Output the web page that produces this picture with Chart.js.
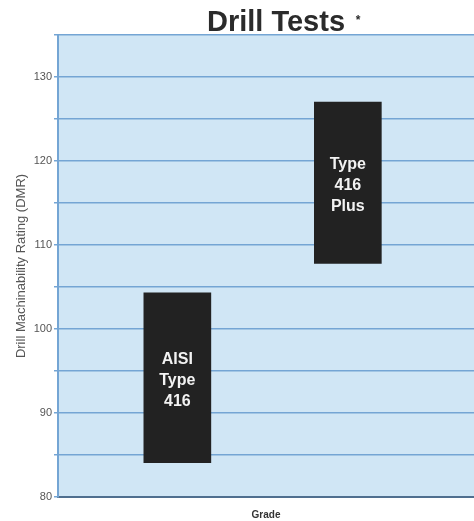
<!DOCTYPE html>
<html>
<head>
<meta charset="utf-8">
<script src="https://cdn.jsdelivr.net/npm/chart.js@4.4.0/dist/chart.umd.min.js"></script>
<style>
  html, body { margin: 0; padding: 0; background: #fff; }
  #wrap { width: 474px; height: 521px; }
</style>
</head>
<body>
<div id="wrap"><canvas id="drillChart"></canvas></div>
<script>
// Drill test data
const grades = ['AISI Type 416', 'Type 416 Plus'];
const gradeLines = [['AISI', 'Type', '416'], ['Type', '416', 'Plus']];
const gradePos = [1, 2];
const dmrLow = [84.1, 107.8];
const dmrHigh = [104.3, 127];
const yMin = 80, yMax = 135, yStep = 5, yLabelStep = 10;

const FONT = '"Liberation Sans", Arial, Helvetica, sans-serif';

// plot background fill
const areaFill = {
    id: 'areaFill',
    beforeDraw(chart) {
        const { ctx, chartArea: a } = chart;
        ctx.save();
        ctx.fillStyle = '#d0e6f5';
        ctx.fillRect(a.left, a.top, a.right - a.left, a.bottom - a.top);
        ctx.restore();
    }
};

// title and text inside bars
const textPlugin = {
    id: 'textPlugin',
    afterDraw(chart) {
        const { ctx } = chart;
        ctx.save();
        ctx.fillStyle = '#2b2b2b';
        ctx.font = 'bold 29px ' + FONT;
        ctx.textAlign = 'center';
        ctx.textBaseline = 'alphabetic';
        ctx.fillText('Drill Tests', 276, 31);
        ctx.font = 'bold 12px ' + FONT;
        ctx.fillText('*', 358, 24);

        const meta = chart.getDatasetMeta(0);
        ctx.fillStyle = '#f2f2f2';
        ctx.font = 'bold 16px ' + FONT;
        ctx.textBaseline = 'middle';
        meta.data.forEach((bar, i) => {
            const cy = (bar.y + bar.base) / 2;
            const lines = gradeLines[i];
            lines.forEach((t, j) => {
                ctx.fillText(t, bar.x, cy + 3 + (j - (lines.length - 1) / 2) * 21);
            });
        });
        ctx.restore();
    }
};

const ctx = document.getElementById('drillChart').getContext('2d');
const drillChart = new Chart(ctx, {
    type: 'bar',
    data: {
        datasets: [{
            label: 'Drill Machinability Rating',
            data: gradePos.map((x, i) => ({ x: x, y: [dmrLow[i], dmrHigh[i]], grade: grades[i] })),
            backgroundColor: '#222222',
            borderWidth: 0,
            barThickness: 67
        }]
    },
    options: {
        responsive: true,
        maintainAspectRatio: false,
        animation: false,
        layout: { padding: { top: 35, right: 0, left: 0, bottom: 0 } },
        plugins: {
            legend: { display: false },
            title: { display: false },
            tooltip: { enabled: false }
        },
        scales: {
            x: {
                type: 'linear',
                offset: false,
                min: 0.3,
                max: 2.74,
                grid: { display: false },
                border: { display: true, color: '#4f6f8f', width: 2 },
                ticks: { display: false },
                title: {
                    display: true,
                    text: 'Grade',
                    color: '#333',
                    font: { family: FONT, size: 10, weight: 'bold' },
                    padding: { top: 3, bottom: 0 }
                },
                afterFit(scale) { scale.height = 24; }
            },
            y: {
                min: yMin,
                max: yMax,
                grid: {
                    color: '#74a5d4',
                    lineWidth: 1.5,
                    drawTicks: true,
                    tickLength: 4
                },
                border: { display: true, color: '#74a5d4', width: 2 },
                ticks: {
                    stepSize: yStep,
                    color: '#555',
                    padding: 2,
                    font: { family: FONT, size: 11 },
                    callback: v => (v % yLabelStep === 0 && v < yMax) ? v : ''
                },
                title: {
                    display: true,
                    text: 'Drill Machinability Rating (DMR)',
                    color: '#555',
                    font: { family: FONT, size: 13 },
                    padding: { top: 14, bottom: 0 }
                },
                afterFit(scale) { scale.width = 58; }
            }
        }
    },
    plugins: [areaFill, textPlugin]
});
</script>
</body>
</html>
